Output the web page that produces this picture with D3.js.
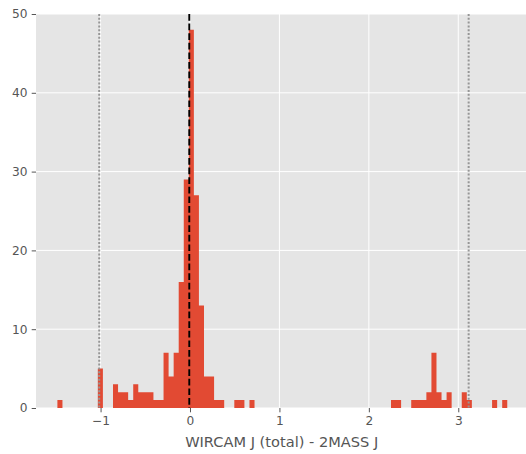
<!DOCTYPE html>
<html>
<head>
<meta charset="utf-8">
<script src="https://cdn.jsdelivr.net/npm/d3@7"></script>
<style>
  html, body { margin: 0; padding: 0; background: #ffffff; }
  svg { display: block; }
  text { font-family: "DejaVu Sans", sans-serif; }
</style>
</head>
<body>
<div id="chart"></div>
<script>
// ---- data ----
const binStart = -1.4827;     // left edge of first bin
const binWidth = 0.05652;     // width of each bin
const counts = [
  1,0,0,0,0,0,0,0,5,0,
  0,3,2,2,1,3,2,2,2,1,
  1,7,4,7,16,29,48,27,13,4,
  4,1,1,0,0,1,1,0,1,0,
  0,0,0,0,0,0,0,0,0,0,
  0,0,0,0,0,0,0,0,0,0,
  0,0,0,0,0,0,1,1,0,0,
  1,1,1,2,7,2,1,2,0,0,
  2,1,0,0,0,0,1,0,1
];
const xTicks = [-1, 0, 1, 2, 3];
const yTicks = [0, 10, 20, 30, 40, 50];
const xDomain = [-1.722, 3.802];
const yDomain = [0, 50];
const medianLine = -0.008;
const limitLines = [-1.015, 3.116];
const xLabel = "WIRCAM J (total) - 2MASS J";

// ---- layout ----
const W = 526, H = 454;
const plot = { left: 36, top: 14, right: 530, bottom: 408 };

const svg = d3.select("#chart").append("svg")
  .attr("width", W).attr("height", H);

const x = d3.scaleLinear().domain(xDomain).range([plot.left, plot.right]);
const y = d3.scaleLinear().domain(yDomain).range([plot.bottom, plot.top]);

// background
svg.append("rect")
  .attr("x", plot.left).attr("y", plot.top)
  .attr("width", plot.right - plot.left).attr("height", plot.bottom - plot.top)
  .attr("fill", "#E5E5E5");

// grid
const grid = svg.append("g");
grid.selectAll("line.gx").data(xTicks).join("line")
  .attr("x1", d => x(d)).attr("x2", d => x(d))
  .attr("y1", plot.top).attr("y2", plot.bottom)
  .attr("stroke", "#ffffff").attr("stroke-width", 1);
grid.selectAll("line.gy").data(yTicks).join("line")
  .attr("x1", plot.left).attr("x2", plot.right)
  .attr("y1", d => y(d)).attr("y2", d => y(d))
  .attr("stroke", "#ffffff").attr("stroke-width", 1);

// bars (one path so adjacent bars join without seams)
const bins = counts.map((c, i) => ({ x0: binStart + i * binWidth, x1: binStart + (i + 1) * binWidth, c }))
  .filter(b => b.c > 0);
const p = d3.path();
bins.forEach(b => {
  p.rect(x(b.x0), y(b.c), x(b.x1) - x(b.x0), y(0) - y(b.c));
});
svg.append("path").attr("d", p.toString()).attr("fill", "#E24A33");

// vertical reference lines
svg.append("g").selectAll("line").data(limitLines).join("line")
  .attr("x1", d => x(d)).attr("x2", d => x(d))
  .attr("y1", plot.top).attr("y2", plot.bottom)
  .attr("stroke", "#969696").attr("stroke-width", 2)
  .attr("stroke-dasharray", "2,1.8");
svg.append("line")
  .attr("x1", x(medianLine)).attr("x2", x(medianLine))
  .attr("y1", plot.top).attr("y2", plot.bottom)
  .attr("stroke", "#000000").attr("stroke-width", 1.9)
  .attr("stroke-dasharray", "6.7,2.9");

// axes
const xAxis = d3.axisBottom(x).tickValues(xTicks).tickSize(4.3).tickPadding(4.3)
  .tickFormat(d => d < 0 ? "\u2212" + Math.abs(d) : String(d));
const gx = svg.append("g").attr("transform", `translate(0,${plot.bottom})`).call(xAxis);
gx.select(".domain").remove();
gx.selectAll(".tick line").attr("stroke", "#555555").attr("stroke-width", 1);
gx.selectAll(".tick text").attr("fill", "#555555").style("font-size", "12.2px")
  .style("font-family", "'DejaVu Sans', sans-serif");

const yAxis = d3.axisLeft(y).tickValues(yTicks).tickSize(4.3).tickPadding(4.3);
const gy = svg.append("g").attr("transform", `translate(${plot.left},0)`).call(yAxis);
gy.select(".domain").remove();
gy.selectAll(".tick line").attr("stroke", "#555555").attr("stroke-width", 1);
gy.selectAll(".tick text").attr("fill", "#555555").style("font-size", "12.2px")
  .style("font-family", "'DejaVu Sans', sans-serif");

// x label
svg.append("text")
  .attr("x", 281.7)
  .attr("y", 446.5)
  .attr("text-anchor", "middle")
  .attr("fill", "#555555")
  .style("font-size", "14.6px")
  .text(xLabel);
</script>
</body>
</html>
